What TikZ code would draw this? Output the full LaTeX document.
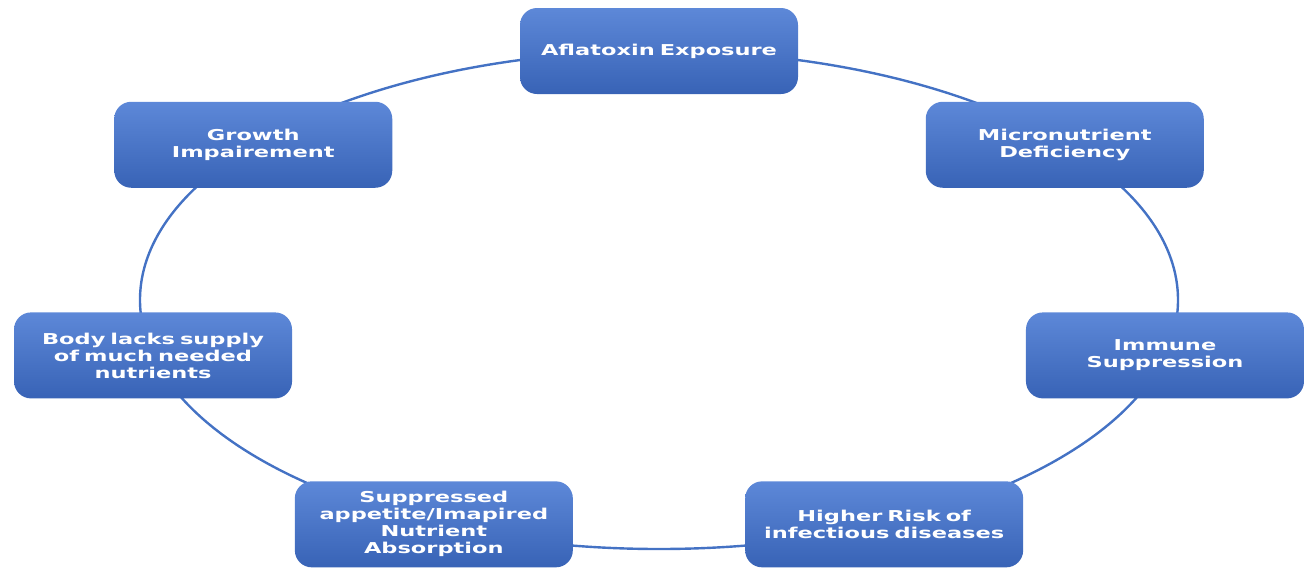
\documentclass[tikz,border=0pt]{standalone}
\usepackage{fontspec}
\setmainfont[FakeStretch=1.5]{DejaVu Sans}
\usetikzlibrary{shadings,calc}

\definecolor{cycleline}{HTML}{4472C4}
\definecolor{boxtop}{HTML}{5D88D8}
\definecolor{boxbot}{HTML}{3863B6}

\tikzset{
  cyclebox/.style={rounded corners=17pt, minimum width=278pt, minimum height=86pt,
    top color=boxtop, bottom color=boxbot, draw=none, text=white,
    font=\fontsize{15}{17}\selectfont\bfseries, align=center, text width=264pt},
  cycleedge/.style={draw=cycleline, line width=2.4pt}
}

\begin{document}
\begin{tikzpicture}[x=1pt, y=-1pt]
  \useasboundingbox (0,0) rectangle (1312,574);
  % centre and radii of the cycle
  \def\rx{519}
  \def\ry{249}
  \coordinate (mid) at (659,300);

  % the ring behind the boxes
  \draw[cycleedge] (mid) ellipse [x radius=\rx, y radius=\ry];

  % the seven stages, clockwise from the top
  \foreach \name/\txt [count=\i from 0] in {
      aflatoxin/{Aflatoxin Exposure},
      micro/{Micronutrient\\Deficiency},
      immune/{Immune\\Suppression},
      risk/{Higher Risk of\\infectious diseases},
      appetite/{Suppressed\\appetite/Imapired\\Nutrient\\Absorption},
      lacks/{Body lacks supply\\of much needed\\nutrients},
      growth/{Growth\\Impairement}}
    \node[cyclebox] (\name) at ($(mid)+({\rx*cos(90-\i*360/7)},{-\ry*sin(90-\i*360/7)})$) {\txt};
\end{tikzpicture}
\end{document}
